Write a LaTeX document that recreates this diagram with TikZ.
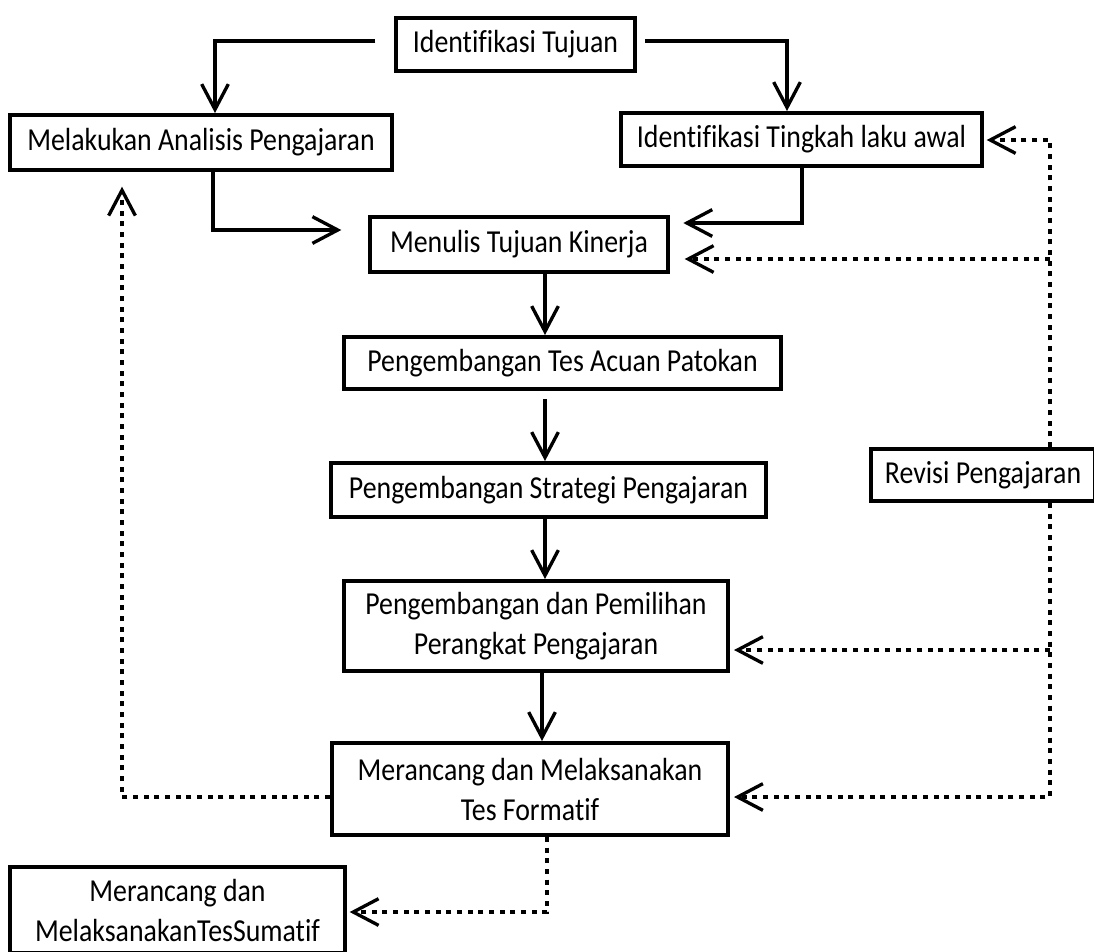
\documentclass[tikz,border=0pt]{standalone}
\usepackage{fontspec}
\setmainfont{Carlito}[FakeStretch=0.87,Ligatures=NoCommon]
\usetikzlibrary{arrows.meta}
\begin{document}
\begin{tikzpicture}[x=0.75pt,y=-0.75pt,
  box/.style={draw, line width=3pt, inner sep=0pt, align=center, fill=white,
    font=\fontsize{24}{30}\selectfont},
  arr/.style={line width=2.5pt, -{Straight Barb[length=19pt,width=20pt]}},
  dotl/.style={line width=3.2pt, dash pattern=on 3.75pt off 4.25pt},
  dotarr/.style={dotl, -{Straight Barb[length=19pt,width=20pt,line width=2.5pt]}}]
\useasboundingbox (0,0) rectangle (1094,951);

\node[box, minimum width=179.25pt, minimum height=39.75pt] (tujuan) at (515.5,44.5) {Identifikasi Tujuan};
\node[box, minimum width=286.5pt, minimum height=41.25pt] (analisis) at (201,142.5) {Melakukan Analisis Pengajaran};
\node[box, minimum width=270.75pt, minimum height=39.75pt] (tingkah) at (801.5,139.5) {Identifikasi Tingkah laku awal};
\node[box, minimum width=223.5pt, minimum height=41.25pt] (menulis) at (519,244.5) {Menulis Tujuan Kinerja};
\node[box, minimum width=327.75pt, minimum height=39pt] (acuan) at (562.5,363) {Pengembangan Tes Acuan Patokan};
\node[box, minimum width=326.25pt, minimum height=40.5pt] (strategi) at (548.5,490) {Pengembangan Strategi Pengajaran};
\node[box, minimum width=288pt, minimum height=67.5pt] (perangkat) at (536,626) {Pengembangan dan Pemilihan\\Perangkat Pengajaran};
\node[box, minimum width=297pt, minimum height=69pt] (formatif) at (530,789) {Merancang dan Melaksanakan\\Tes Formatif};
\node[box, minimum width=168pt, minimum height=39pt] (revisi) at (983,475) {Revisi Pengajaran};
\node[box, minimum width=251.25pt, minimum height=64.5pt] (sumatif) at (177.5,910) {Merancang dan\\MelaksanakanTesSumatif};

% solid connectors
\draw[arr, shorten <=14pt] (tujuan.west |- 0,41) -| (analisis.north -| 215,0);
\draw[arr, shorten <=6pt] (tujuan.east |- 0,41) -| (tingkah.north -| 787,0);
\draw[arr, shorten >=20pt] (analisis.south -| 213,0) |- (menulis.west |- 0,230);
\draw[arr, shorten >=10pt] (tingkah.south -| 802,0) |- (menulis.east |- 0,223);
\draw[arr] (menulis.south -| 545,0) -- (acuan.north -| 545,0);
\draw[arr, shorten <=6pt] (acuan.south -| 545,0) -- (strategi.north -| 545,0);
\draw[arr] (strategi.south -| 545,0) -- (perangkat.north -| 545,0);
\draw[arr] (perangkat.south -| 542,0) -- (formatif.north -| 542,0);

% dotted feedback connectors
\coordinate (j1) at (1050,259);
\coordinate (j2) at (1050,650);
\draw[dotarr, shorten >=2pt] (revisi.north -| 1050,0) |- (tingkah.east |- 0,140);
\draw[dotarr, shorten >=11pt] (j1) -- (menulis.east |- j1);
\draw[dotarr, shorten >=3pt] (j2) -- (perangkat.east |- j2);
\draw[dotarr, shorten >=3pt] (revisi.south -| 1050,0) |- (formatif.east |- 0,797);
\draw[dotarr, shorten >=11pt] (formatif.west |- 0,797) -| (analisis.south -| 122,0);
\draw[dotarr, shorten >=2pt] (formatif.south -| 547,0) |- (sumatif.east |- 0,912);
\end{tikzpicture}
\end{document}
